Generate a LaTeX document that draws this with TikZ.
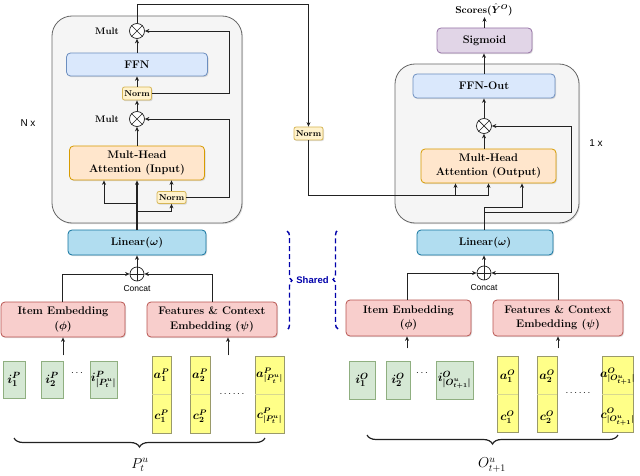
\documentclass[tikz,border=0pt]{standalone}
\usepackage{fontspec}
\usepackage{bm}
\usetikzlibrary{arrows.meta,shadows,decorations.pathreplacing,calc}
\newfontfamily\sansf{Liberation Sans}
\definecolor{outerfill}{HTML}{F5F5F5}
\definecolor{outerdraw}{HTML}{666666}
\definecolor{ffnfill}{HTML}{DAE8FC}
\definecolor{ffndraw}{HTML}{6C8EBF}
\definecolor{attnfill}{HTML}{FFE6CC}
\definecolor{attndraw}{HTML}{D79B00}
\definecolor{normfill}{HTML}{FFF2CC}
\definecolor{normdraw}{HTML}{D6B656}
\definecolor{linfill}{HTML}{B1DDF0}
\definecolor{lindraw}{HTML}{10739E}
\definecolor{embfill}{HTML}{F8CECC}
\definecolor{embdraw}{HTML}{B85450}
\definecolor{sigfill}{HTML}{E1D5E7}
\definecolor{sigdraw}{HTML}{9673A6}
\definecolor{grfill}{HTML}{D5E8D4}
\definecolor{grdraw}{HTML}{8FAF80}
\definecolor{yefill}{HTML}{FFFF88}
\definecolor{yedraw}{HTML}{9A9A6A}
\definecolor{yesplit}{HTML}{D8D890}
\definecolor{sharedblue}{HTML}{0000AA}
\definecolor{linecol}{HTML}{222222}
\tikzset{
  wh/.style 2 args={minimum width=#1pt, minimum height=#2pt},
  shad/.style={drop shadow={shadow xshift=1pt,shadow yshift=-1.2pt,opacity=0.25}},
  base/.style={draw, line width=0.8pt, rounded corners=4pt, inner sep=0pt, align=center,
    font=\bfseries\fontsize{11}{14.5}\selectfont, shad},
  outerbox/.style={draw=outerdraw, fill=outerfill, line width=0.8pt, rounded corners=20pt, shad},
  ffnbox/.style={base, fill=ffnfill, draw=ffndraw},
  attnbox/.style={base, fill=attnfill, draw=attndraw},
  normbox/.style={base, fill=normfill, draw=normdraw, rounded corners=2pt, font=\bfseries\fontsize{8.5}{10}\selectfont},
  linbox/.style={base, fill=linfill, draw=lindraw},
  embbox/.style={base, fill=embfill, draw=embdraw},
  sigbox/.style={base, fill=sigfill, draw=sigdraw},
  grbox/.style={draw=grdraw, fill=grfill, line width=0.8pt, inner sep=0pt, shad, font=\fontsize{12.5}{14}\selectfont},
  yebox/.style={draw=yedraw, fill=yefill, line width=0.8pt, inner sep=0pt, shad},
  yelbl/.style={inner sep=0pt, font=\fontsize{11.5}{13}\selectfont},
  opc/.style={circle, draw=linecol, fill=white, minimum size=15pt, inner sep=0pt, line width=0.7pt},
  multlbl/.style={inner sep=0pt, font=\bfseries\fontsize{9.5}{11}\selectfont},
  sanslbl/.style={inner sep=0pt, font=\sansf\fontsize{10}{12}\selectfont},
  concatlbl/.style={inner sep=0pt, font=\sansf\fontsize{8.5}{10}\selectfont},
  arr/.style={-{Stealth[length=4.5pt,width=4pt]}, line width=0.8pt, draw=linecol},
  ln/.style={line width=0.8pt, draw=linecol},
  bigbrace/.style={decorate, decoration={brace, amplitude=9pt}, line width=1.2pt, draw=linecol},
  sharedbrace/.style={decorate, decoration={brace, amplitude=5pt}, dash pattern=on 5pt off 3pt, line width=1.4pt, draw=sharedblue},
}
\begin{document}
\begin{tikzpicture}[x=1pt,y=-1pt]
\useasboundingbox (0,0) rectangle (640,476);

% ================= LEFT BLOCK =================
\node[outerbox, wh={190}{207}] (outL) at (147,119.5) {};
\node[ffnbox, wh={141}{23}] (ffn) at (137,64.5) {FFN};
\node[normbox, wh={29}{13}] (n1) at (137,93.5) {Norm};
\node[opc] (m1) at (137,31) {};
\node[opc] (m2) at (137,119) {};
\draw[line width=0.7pt, linecol] (m1.45) -- (m1.225) (m1.135) -- (m1.315);
\draw[line width=0.7pt, linecol] (m2.45) -- (m2.225) (m2.135) -- (m2.315);
\node[multlbl] (ml1) at (107,31) {Mult};
\node[multlbl] (ml2) at (107,119) {Mult};
\node[attnbox, wh={135}{34}] (att1) at (137,163) {Mult-Head\\Attention (Input)};
\node[normbox, wh={29}{12}] (n2) at (171.5,197.5) {Norm};
\node[sanslbl] (nx) at (28,123) {N x};
\node[linbox, wh={138}{25}] (lin1) at (137,242.5) {Linear($\bm{\omega}$)};
\node[opc, minimum size=14pt] (c1) at (137,274) {};
\draw[line width=0.7pt, linecol] (c1.north) -- (c1.south) (c1.west) -- (c1.east);
\node[concatlbl] (cl1) at (137,288.5) {Concat};
\node[embbox, wh={124}{35}] (ie1) at (63,319.5) {Item Embedding\\($\bm{\phi}$)};
\node[embbox, wh={130}{35}] (fe1) at (212,319.5) {Features \& Context\\Embedding ($\bm{\psi}$)};

% inputs left
\node[grbox, wh={22}{37}] (gi1) at (14,379.5) {$\bm{i^P_1}$};
\node[grbox, wh={22}{37}] (gi2) at (52,379.5) {$\bm{i^P_2}$};
\node[inner sep=0pt] (gd) at (77,373) {$\cdots$};
\node[grbox, wh={27}{37}] (gi3) at (103.5,379.5) {$\bm{i^P_{|P^u_t|}}$};

\node[yebox, wh={19}{77}] (ya1) at (161.5,394.5) {};
\node[yebox, wh={20}{77}] (ya2) at (200,394.5) {};
\node[yebox, wh={29}{77}] (ya3) at (269.5,394.5) {};
\draw[yesplit, line width=0.6pt] (ya1.west) -- (ya1.east) (ya2.west) -- (ya2.east) (ya3.west) -- (ya3.east);
\node[yelbl] (ta1) at (161.5,375.5) {$\bm{a^P_1}$};
\node[yelbl] (tc1) at (161.5,416) {$\bm{c^P_1}$};
\node[yelbl] (ta2) at (200,375.5) {$\bm{a^P_2}$};
\node[yelbl] (tc2) at (200,416) {$\bm{c^P_2}$};
\node[yelbl] (ta3) at (269.5,375.5) {$\bm{a^P_{|P^u_t|}}$};
\node[yelbl] (tc3) at (269.5,416) {$\bm{c^P_{|P^u_t|}}$};
\node[inner sep=0pt] (yd) at (232,394) {$\cdots\cdots$};

\draw[bigbrace] (265,438) -- (14,438);
\node[inner sep=0pt, font=\fontsize{14}{16}\selectfont] (pl) at (140,465) {$P^u_t$};

% ================= MIDDLE NORM =================
\node[normbox, wh={29}{13}] (nm) at (308.5,133.5) {Norm};

% ================= RIGHT BLOCK =================
\node[outerbox, wh={184}{159}] (outR) at (487,143.5) {};
\node[sigbox, wh={95}{25}] (sig) at (484.5,40.5) {Sigmoid};
\node[inner sep=1pt, font=\bfseries\fontsize{10}{12}\selectfont] (sc) at (484,10) {Scores($\bm{\hat{Y}^O}$)};
\node[ffnbox, wh={142}{24}] (ffo) at (484,86) {FFN-Out};
\node[opc] (m3) at (484,126) {};
\draw[line width=0.7pt, linecol] (m3.45) -- (m3.225) (m3.135) -- (m3.315);
\node[attnbox, wh={135}{34}] (att2) at (488.5,166) {Mult-Head\\Attention (Output)};
\node[sanslbl] (onex) at (596,143) {1 x};
\node[linbox, wh={136}{25}] (lin2) at (485,242.5) {Linear($\bm{\omega}$)};
\node[opc, minimum size=14pt] (c2) at (484,273) {};
\draw[line width=0.7pt, linecol] (c2.north) -- (c2.south) (c2.west) -- (c2.east);
\node[concatlbl] (cl2) at (484,288) {Concat};
\node[embbox, wh={125}{36}] (ie2) at (408.5,318) {Item Embedding\\($\bm{\phi}$)};
\node[embbox, wh={130}{36}] (fe2) at (558,318) {Features \& Context\\Embedding ($\bm{\psi}$)};

\node[grbox, wh={26}{38}] (hi1) at (362,380) {$\bm{i^O_1}$};
\node[grbox, wh={24}{38}] (hi2) at (398,380) {$\bm{i^O_2}$};
\node[inner sep=0pt] (hd) at (422,373) {$\cdots$};
\node[grbox, wh={37}{38}] (hi3) at (454.5,380) {$\bm{i^O_{|O^u_{t+1}|}}$};

\node[yebox, wh={21}{76}] (yb1) at (507.5,394) {};
\node[yebox, wh={20}{76}] (yb2) at (547,394) {};
\node[yebox, wh={31}{76}] (yb3) at (617.5,394) {};
\draw[yesplit, line width=0.6pt] (yb1.west) -- (yb1.east) (yb2.west) -- (yb2.east) (yb3.west) -- (yb3.east);
\node[yelbl] (ua1) at (507.5,376.5) {$\bm{a^O_1}$};
\node[yelbl] (uc1) at (507.5,417) {$\bm{c^O_1}$};
\node[yelbl] (ua2) at (547,376.5) {$\bm{a^O_2}$};
\node[yelbl] (uc2) at (547,417) {$\bm{c^O_2}$};
\node[yelbl] (ua3) at (617.5,376.5) {$\bm{a^O_{|O^u_{t+1}|}}$};
\node[yelbl] (uc3) at (617.5,417) {$\bm{c^O_{|O^u_{t+1}|}}$};
\node[inner sep=0pt] (ud) at (578,393) {$\cdots\cdots$};

\draw[bigbrace] (618,435) -- (367,435);
\node[inner sep=0pt, font=\fontsize{14}{16}\selectfont] (ol) at (492,465) {$O^u_{t+1}$};

% ================= SHARED =================
\draw[sharedbrace] (287,231) -- (287,330);
\draw[sharedbrace] (338,329) -- (338,230);
\node[inner sep=0pt, text=sharedblue, font=\sansf\bfseries\fontsize{9.5}{11}\selectfont] (sh) at (312.5,280) {Shared};

% ================= CONNECTORS LEFT =================
\draw[arr] (ffn.north) -- (m1.south);
\draw[arr] (n1.north) -- (ffn.south);
\draw[arr] (m2.north) -- (n1.south);
\draw[arr] (att1.north) -- (m2.south);
\draw[arr] (n1.east) -- ++(77,0) |- (m1.east);
\draw[arr] (n2.east) -- ++(43,0) |- (m2.east);
\draw[arr, line width=1.1pt] (lin1.north) -- (att1.south);
\draw[arr] ([yshift=26pt]lin1.north) -| ([xshift=-33pt]att1.south);
\draw[arr] ([yshift=18pt]lin1.north) -| (n2.south);
\draw[arr] (n2.north) -- (n2.north |- att1.south);
\draw[arr] (c1.north) -- (lin1.south);
\draw[arr] ([xshift=-1pt]ie1.north) |- (c1.west);
\draw[arr] (fe1.north) |- (c1.east);
\draw[arr] ([yshift=-18pt]ie1.south) -- (ie1.south);
\draw[arr] ([xshift=16pt,yshift=-18pt]fe1.south) -- ([xshift=16pt]fe1.south);

% top link to middle norm and right attention
\draw[arr] (m1.north) -- ++(0,-18.5) -| (nm.north);
\draw[arr] (nm.south) |- ([yshift=-12pt]att2.south) -- (att2.south);
\draw[arr] ([xshift=-33pt,yshift=-12pt]att2.south) -- ([xshift=-33pt]att2.south);

% ================= CONNECTORS RIGHT =================
\draw[arr] (sig.north) -- (sig.north |- sc.south);
\draw[arr] (ffo.north) -- (ffo.north |- sig.south);
\draw[arr] (m3.north) -- (m3.north |- ffo.south);
\draw[arr] (att2.north -| m3) -- (m3.south);
\draw[arr] (lin2.north -| m3) |- ([xshift=33.5pt,yshift=-24pt]att2.south) -- ([xshift=33.5pt]att2.south);
\draw[arr] (lin2.north -| m3) |- ([xshift=83pt,yshift=-29pt]att2.south) |- (m3.east);
\draw[arr] (c2.north) -- (c2.north |- lin2.south);
\draw[arr] ([xshift=-1.5pt]ie2.north) |- (c2.west);
\draw[arr] (fe2.north) |- (c2.east);
\draw[arr] ([xshift=-1.5pt,yshift=-12pt]ie2.south) -- ([xshift=-1.5pt]ie2.south);
\draw[arr] ([yshift=-12pt]fe2.south) -- (fe2.south);
\end{tikzpicture}
\end{document}
